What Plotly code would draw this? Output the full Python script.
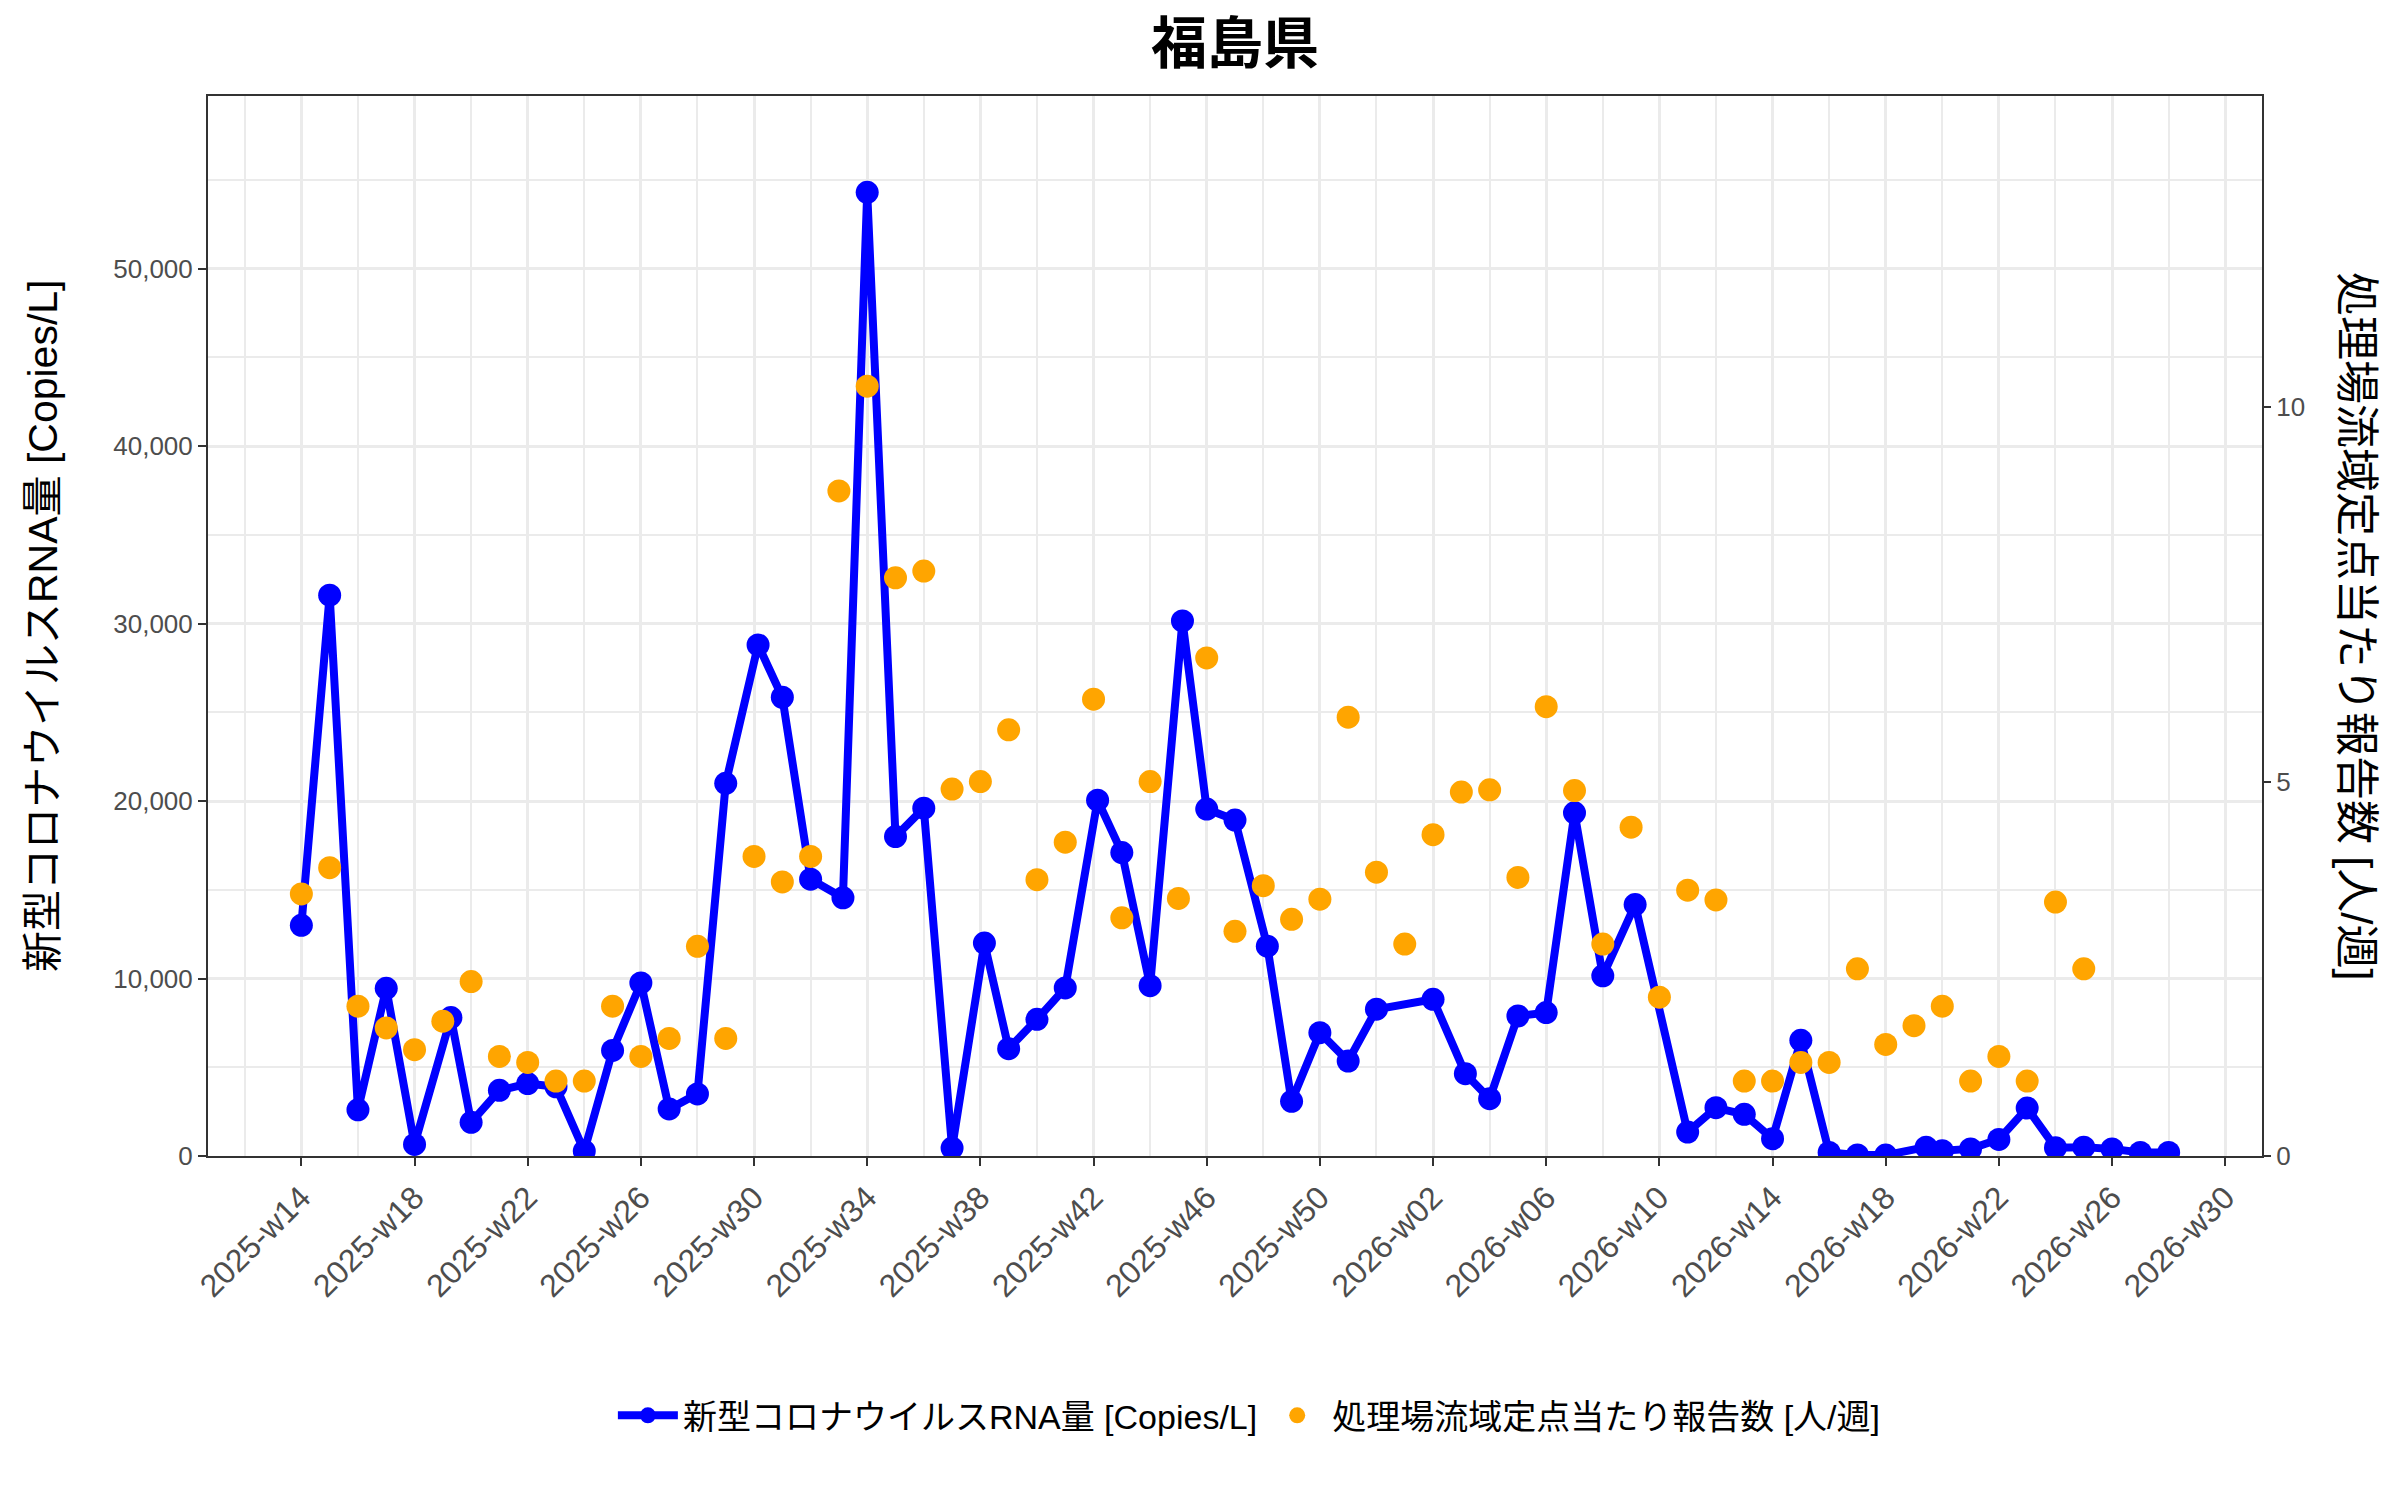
import plotly.graph_objects as go
import pandas as pd

# ---- data ----
rna_dates = [
    "2025-03-31", "2025-04-07", "2025-04-14", "2025-04-21", "2025-04-28", "2025-05-07",
    "2025-05-12", "2025-05-19", "2025-05-26", "2025-06-02", "2025-06-09", "2025-06-16",
    "2025-06-23", "2025-06-30", "2025-07-07", "2025-07-14", "2025-07-22", "2025-07-28",
    "2025-08-04", "2025-08-12", "2025-08-18", "2025-08-25", "2025-09-01", "2025-09-08",
    "2025-09-16", "2025-09-22", "2025-09-29", "2025-10-06", "2025-10-14", "2025-10-20",
    "2025-10-27", "2025-11-04", "2025-11-10", "2025-11-17", "2025-11-25", "2025-12-01",
    "2025-12-08", "2025-12-15", "2025-12-22", "2026-01-05", "2026-01-13", "2026-01-19",
    "2026-01-26", "2026-02-02", "2026-02-09", "2026-02-16", "2026-02-24", "2026-03-09",
    "2026-03-16", "2026-03-23", "2026-03-30", "2026-04-06", "2026-04-13", "2026-04-20",
    "2026-04-27", "2026-05-07", "2026-05-11", "2026-05-18", "2026-05-25", "2026-06-01",
    "2026-06-08", "2026-06-15", "2026-06-22", "2026-06-29", "2026-07-06",
]
rna_values = [
    13000, 31600, 2600, 9450, 650, 7800,
    1900, 3700, 4080, 3900, 280, 5950,
    9750, 2650, 3500, 21000, 28800, 25850,
    15600, 14550, 54300, 18000, 19600, 450,
    12000, 6050, 7700, 9470, 20050, 17100,
    9600, 30150, 19550, 18930, 11820, 3080,
    6950, 5350, 8270, 8830, 4640, 3230,
    7890, 8080, 19340, 10150, 14170, 1350,
    2720, 2350, 975, 6520, 200, 60,
    50, 500, 300, 400, 935, 2700,
    470, 500, 400, 200, 200,
]

report_dates = list(pd.date_range("2025-03-31", periods=64, freq="7D").strftime("%Y-%m-%d"))
report_values = [
    3.5, 3.85, 2.0, 1.71, 1.42, 1.8, 2.33, 1.33, 1.25, 1.0,
    1.0, 2.0, 1.33, 1.57, 2.8, 1.57, 4.0, 3.66, 4.0, 8.88,
    10.28, 7.72, 7.81, 4.9, 5.0, 5.69, 3.69, 4.19, 6.1, 3.18,
    5.0, 3.44, 6.65, 3.0, 3.61, 3.16, 3.43, 5.86, 3.79, 2.83,
    4.29, 4.86, 4.89, 3.72, 6.0, 4.88, 2.83, 4.39, 2.12, 3.55,
    3.42, 1.0, 1.0, 1.25, 1.25, 2.5, 1.49, 1.74, 2.0, 1.0,
    1.33, 1.0, 3.39, 2.5,
]

tick_dates = list(pd.date_range("2025-03-31", periods=18, freq="28D").strftime("%Y-%m-%d"))
tick_labels = [
    "2025-w14", "2025-w18", "2025-w22", "2025-w26", "2025-w30", "2025-w34",
    "2025-w38", "2025-w42", "2025-w46", "2025-w50", "2026-w02", "2026-w06",
    "2026-w10", "2026-w14", "2026-w18", "2026-w22", "2026-w26", "2026-w30",
]

title_text = "福島県"
rna_name = "新型コロナウイルスRNA量 [Copies/L]"
report_name = "処理場流域定点当たり報告数 [人/週]"

FONT = "Liberation Sans, Arial, Noto Sans CJK JP, sans-serif"
GRID = "#EBEBEB"
AX = "#333333"
TICKTXT = "#4D4D4D"

y_max = max(rna_values) * 1.1
y2_max = y_max / 4220.0

fig = go.Figure()
fig.add_trace(go.Scatter(
    x=rna_dates, y=rna_values, name=rna_name, mode="lines+markers",
    line=dict(color="#0000FF", width=8),
    marker=dict(color="#0000FF", size=23),
    yaxis="y",
))
fig.add_trace(go.Scatter(
    x=report_dates, y=report_values, name=report_name, mode="markers",
    marker=dict(color="#FFA500", size=23),
    yaxis="y2",
))

fig.update_layout(
    width=2400, height=1500,
    paper_bgcolor="white", plot_bgcolor="white",
    margin=dict(l=208, r=138, t=96, b=344),
    font=dict(family=FONT, color="black"),
    title=dict(text="<b>" + title_text + "</b>", x=0.5, xanchor="center", xref="paper",
               y=1 - 43 / 1500, yanchor="middle", yref="container",
               font=dict(size=56, family=FONT, color="black")),
    showlegend=True,
    legend=dict(orientation="h", x=0.507, xanchor="center", y=-0.245, yanchor="middle",
                font=dict(size=34, family=FONT, color="black"),
                itemwidth=60, traceorder="normal"),
    xaxis=dict(
        type="date",
        range=["2025-03-07 21:36", "2026-07-29 02:24"],
        tickvals=tick_dates, ticktext=tick_labels, tickangle=-45,
        tickfont=dict(size=32, color=TICKTXT, family=FONT),
        ticks="outside", ticklen=8, tickwidth=2, tickcolor=AX,
        showgrid=True, gridcolor=GRID, gridwidth=3,
        minor=dict(dtick=14 * 86400000, tick0="2025-03-31", showgrid=True,
                   gridcolor=GRID, gridwidth=1.5, ticks=""),
        showline=True, linecolor=AX, linewidth=2, mirror=True,
        zeroline=False,
    ),
    yaxis=dict(
        range=[0, y_max],
        tickvals=[0, 10000, 20000, 30000, 40000, 50000],
        tickformat=",d",
        tickfont=dict(size=26, color=TICKTXT, family=FONT),
        ticks="outside", ticklen=8, tickwidth=2, tickcolor=AX,
        showgrid=True, gridcolor=GRID, gridwidth=3,
        minor=dict(dtick=5000, showgrid=True, gridcolor=GRID, gridwidth=1.5, ticks=""),
        showline=True, linecolor=AX, linewidth=2, mirror=True,
        zeroline=False,
    ),
    yaxis2=dict(
        overlaying="y", side="right",
        range=[0, y2_max],
        tickvals=[0, 5, 10],
        tickfont=dict(size=26, color=TICKTXT, family=FONT),
        ticks="outside", ticklen=8, tickwidth=2, tickcolor=AX,
        showgrid=False, zeroline=False, showline=False,
    ),
    annotations=[
        dict(text=rna_name, xref="paper", yref="paper", x=-0.0803, y=0.5,
             xanchor="center", yanchor="middle", textangle=-90, showarrow=False,
             font=dict(size=41, family=FONT, color="black")),
        dict(text=report_name, xref="paper", yref="paper", x=1.0463, y=0.5,
             xanchor="center", yanchor="middle", textangle=90, showarrow=False,
             font=dict(size=44, family=FONT, color="black")),
    ],
)

fig.write_html("out.html")
